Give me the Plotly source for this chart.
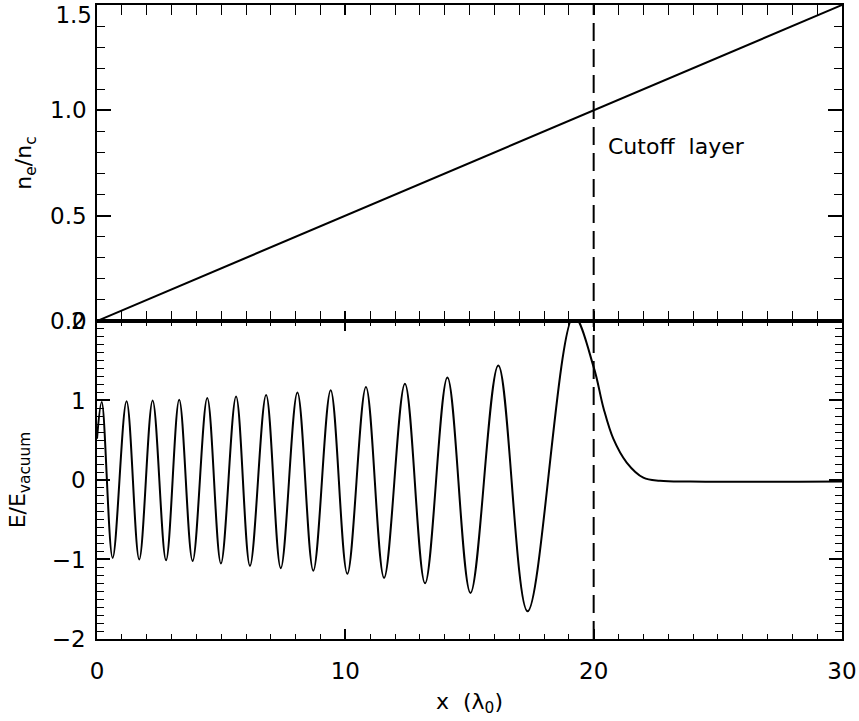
import plotly.graph_objects as go

# ---- data ----
density_x = [0.0, 30.0]
density_ne_nc = [0.0, 1.5]

field_x = [0.0, 0.19, 0.63, 1.19, 1.70, 2.24, 2.78, 3.31, 3.85, 4.44, 4.99, 5.60,
           6.16, 6.81, 7.40, 8.07, 8.71, 9.41, 10.08, 10.83, 11.56, 12.40, 13.21,
           14.11, 15.04, 16.16, 17.34, 19.20, 20.00, 20.40, 20.79, 21.33, 22.00,
           22.67, 23.90, 30.00]
field_E = [0.52, 0.98, -0.98, 0.99, -1.00, 1.00, -1.01, 1.01, -1.02, 1.03, -1.05, 1.05,
           -1.08, 1.07, -1.11, 1.10, -1.14, 1.13, -1.18, 1.17, -1.23, 1.21, -1.30,
           1.29, -1.42, 1.44, -1.65, 2.06, 1.42, 0.90, 0.52, 0.22, 0.03,
           -0.01, -0.02, -0.02]

cutoff_x = 20.0
cutoff_label = "Cutoff  layer"
cutoff_label_pos = (20.5, 0.83)

x_ticks = [0, 10, 20, 30]
top_y_ticks = [0.0, 0.5, 1.0, 1.5]
top_y_text = ["0.0", "0.5", "1.0", ""]
top_label_last = [1.5]
bottom_y_ticks = [-2, -1, 0, 1, 2]

FONT = "DejaVu Sans, Verdana, sans-serif"
TICK_SIZE = 23
TITLE_SIZE = 22
split = 0.5016

fig = go.Figure()
fig.add_trace(go.Scatter(x=density_x, y=density_ne_nc, mode="lines",
                         line=dict(color="black", width=2),
                         xaxis="x2", yaxis="y2", showlegend=False))
fig.add_trace(go.Scatter(x=field_x, y=field_E, mode="lines",
                         line=dict(color="black", width=2, shape="spline", smoothing=1),
                         xaxis="x", yaxis="y", showlegend=False))
# invisible helper trace so the label-only axis (y3) is drawn
fig.add_trace(go.Scatter(x=[None], y=[None], xaxis="x2", yaxis="y3",
                         showlegend=False, hoverinfo="skip"))

common_x = dict(range=[0, 30], tickvals=x_ticks, ticks="inside", ticklen=10,
                tickwidth=1.5, tickcolor="black", showline=True, linewidth=1.6,
                linecolor="black", mirror="allticks", showgrid=False, zeroline=False,
                minor=dict(dtick=1, ticks="inside", ticklen=5, tickwidth=1.2,
                           tickcolor="black", showgrid=False),
                automargin=False)

fig.update_layout(
    width=859, height=721,
    margin=dict(l=97, r=17, t=5, b=82),
    paper_bgcolor="white", plot_bgcolor="white",
    font=dict(family=FONT, size=TICK_SIZE, color="black"),
    xaxis=dict(**common_x, anchor="y", domain=[0, 1], ticklabelstandoff=11,
               title=dict(text="x  (λ<sub>0</sub>)", font=dict(size=TITLE_SIZE), standoff=10),
               tickfont=dict(size=TICK_SIZE)),
    xaxis2=dict(**common_x, anchor="y2", matches="x", showticklabels=False),
    yaxis=dict(domain=[0, split], range=[-2, 2], tickvals=bottom_y_ticks,
               ticks="inside", ticklen=13, tickwidth=1.5, tickcolor="black",
               showline=True, linewidth=1.6, linecolor="black", mirror="allticks",
               showgrid=False, zeroline=False, automargin=False, ticklabelstandoff=5,
               minor=dict(dtick=0.1, ticks="inside", ticklen=7, tickwidth=1.2,
                          tickcolor="black", showgrid=False),
               title=dict(text="E/E<sub>vacuum</sub>", font=dict(size=TITLE_SIZE), standoff=20),
               tickfont=dict(size=TICK_SIZE)),
    yaxis2=dict(domain=[split, 1], range=[0, 1.5], tickvals=top_y_ticks,
                ticktext=top_y_text, anchor="x2",
                ticks="inside", ticklen=14, tickwidth=1.5, tickcolor="black",
                showline=True, linewidth=1.6, linecolor="black", mirror="allticks",
                showgrid=False, zeroline=False, automargin=False, ticklabelstandoff=4,
                minor=dict(dtick=0.1, ticks="inside", ticklen=8, tickwidth=1.2,
                           tickcolor="black", showgrid=False),
                title=dict(text="n<sub>e</sub>/n<sub>c</sub>", font=dict(size=TITLE_SIZE), standoff=12),
                tickfont=dict(size=TICK_SIZE)),
    # label-only axis: places the "1.5" label slightly below the top edge, as in the reference
    yaxis3=dict(domain=[split, 1], range=[0.0475, 1.5475], overlaying="y2", side="left",
                anchor="x2", tickvals=top_label_last, tickformat=".1f", ticks="",
                showline=False, showgrid=False, zeroline=False, automargin=False,
                ticklabelstandoff=4, ticklabeloverflow="allow",
                tickfont=dict(size=TICK_SIZE)),
)

fig.add_shape(type="line", xref="x", yref="paper", x0=cutoff_x, x1=cutoff_x,
              y0=0, y1=1, line=dict(color="black", width=2, dash="18px,8px"))

fig.add_annotation(x=cutoff_label_pos[0], y=cutoff_label_pos[1], xref="x2", yref="y2",
                   text=cutoff_label.replace("  ", "&nbsp; "), showarrow=False,
                   xanchor="left", yanchor="middle",
                   font=dict(size=22, family=FONT))

fig.write_html("out.html")
